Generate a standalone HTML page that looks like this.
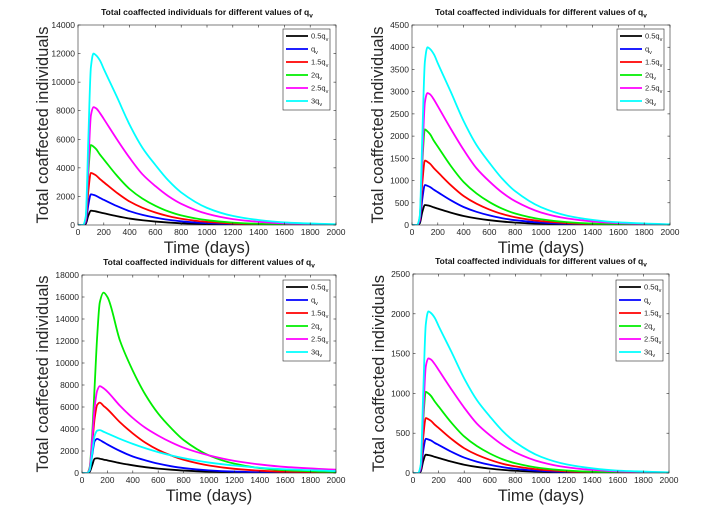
<!DOCTYPE html>
<html><head><meta charset="utf-8"><style>
html,body{margin:0;padding:0;background:#fff;}
svg{display:block;font-family:"Liberation Sans",Arial,sans-serif;}
</style></head><body>
<svg id="fig" width="724" height="514" viewBox="0 0 724 514"></svg>
<script>
const times = [0,40,60,80,100,120,140,170,200,300,400,500,600,700,800,1000,1200,1400,1600,2000];
const seriesLabels = ["0.5q","q","1.5q","2q","2.5q","3q"];
const seriesColors = ["#000000","#0000ff","#ff0000","#00ee00","#ff00ff","#00ffff"];
const xTicks = [0,200,400,600,800,1000,1200,1400,1600,1800,2000];

const p1Black = [0,0,80,650,1000,980,950,880,820,620,450,330,240,170,120,60,30,15,7,2];
const p1Blue = [0,0,172,1398,2150,2107,2043,1892,1763,1333,968,710,516,366,258,129,65,32,15,4];
const p1Red = [0,0,292,2373,3650,3577,3468,3212,2993,2263,1643,1205,876,621,438,219,110,55,26,7];
const p1Green = [0,0,448,3640,5600,5488,5320,4928,4592,3472,2520,1848,1344,952,672,336,168,84,39,11];
const p1Magenta = [0,0,413,4125,7673,8250,8168,7838,7425,6023,4703,3548,2723,2021,1485,784,413,223,116,33];
const p1Cyan = [0,0,600,6000,11040,12000,11880,11520,10920,9000,7020,5400,4200,3120,2280,1200,636,348,180,48];
const p1YTicks = [0,2000,4000,6000,8000,10000,12000,14000];

const p2Black = [0,0,36,293,450,441,428,396,369,279,203,149,108,77,54,27,14,7,3,1];
const p2Blue = [0,0,72,585,900,882,855,792,738,558,405,297,216,153,108,54,27,14,6,2];
const p2Red = [0,0,116,943,1450,1421,1378,1276,1189,899,653,479,348,247,174,87,44,22,10,3];
const p2Green = [0,0,172,1398,2150,2107,2043,1892,1763,1333,968,710,516,366,258,129,65,32,15,4];
const p2Magenta = [0,0,149,1485,2762,2970,2940,2822,2673,2168,1693,1277,980,728,535,282,149,80,42,12];
const p2Cyan = [0,0,200,2000,3680,4000,3960,3840,3640,3000,2340,1800,1400,1040,760,400,212,116,60,16];
const p2YTicks = [0,500,1000,1500,2000,2500,3000,3500,4000,4500];

const p3Black = [0,0,100,700,1300,1340,1300,1220,1150,900,700,530,400,300,220,120,60,30,15,4];
const p3Blue = [0,0,200,1600,2900,3100,3000,2800,2600,2000,1500,1150,850,620,450,240,130,70,35,10];
const p3Red = [0,0,300,2500,5000,6200,6400,6100,5800,4600,3600,2750,2100,1600,1200,680,380,210,120,40];
const p3Green = [0,0,500,3500,8000,12500,15500,16400,16000,12000,9300,7100,5400,4100,3000,1600,850,450,250,80];
const p3Magenta = [0,0,400,3000,6000,7500,7900,7700,7400,6100,5000,4100,3400,2800,2300,1600,1100,780,550,300];
const p3Cyan = [0,0,250,1800,3400,3850,3900,3750,3600,3100,2650,2250,1900,1600,1350,950,680,480,340,180];
const p3YTicks = [0,2000,4000,6000,8000,10000,12000,14000,16000,18000];

const p4Black = [0,0,18,150,230,225,219,202,189,143,104,76,55,39,28,14,7,3,2,0];
const p4Blue = [0,0,34,280,430,421,409,378,353,267,194,142,103,73,52,26,13,6,3,1];
const p4Red = [0,0,55,449,690,676,656,607,566,428,311,228,166,117,83,41,21,10,5,1];
const p4Green = [0,0,82,663,1020,1000,969,898,836,632,459,337,245,173,122,61,31,15,7,2];
const p4Magenta = [0,0,72,720,1339,1440,1426,1368,1296,1051,821,619,475,353,259,137,72,39,20,6];
const p4Cyan = [0,0,102,1015,1868,2030,2010,1949,1847,1523,1188,914,711,528,386,203,108,59,30,8];
const p4YTicks = [0,500,1000,1500,2000,2500];

const NS = "http://www.w3.org/2000/svg";
const svg = document.getElementById("fig");
function mk(tag, attrs, parent){
  const e = document.createElementNS(NS, tag);
  for (const k in attrs) e.setAttribute(k, attrs[k]);
  (parent||svg).appendChild(e);
  return e;
}

// monotone cubic (Fritsch-Carlson) path through pixel points
function monotonePath(pts){
  const n = pts.length;
  const dx = [], m = [], t = new Array(n).fill(0);
  for (let i = 0; i < n-1; i++){ dx[i] = pts[i+1][0]-pts[i][0]; m[i] = (pts[i+1][1]-pts[i][1])/dx[i]; }
  t[0] = m[0]; t[n-1] = m[n-2];
  for (let i = 1; i < n-1; i++){
    if (m[i-1]*m[i] <= 0) t[i] = 0;
    else { const w1 = 2*dx[i]+dx[i-1], w2 = dx[i]+2*dx[i-1]; t[i] = (w1+w2)/(w1/m[i-1]+w2/m[i]); }
  }
  let d = "M" + pts[0][0].toFixed(2) + "," + pts[0][1].toFixed(2);
  for (let i = 0; i < n-1; i++){
    const h = dx[i]/3;
    d += "C" + (pts[i][0]+h).toFixed(2) + "," + (pts[i][1]+t[i]*h).toFixed(2) + " " +
         (pts[i+1][0]-h).toFixed(2) + "," + (pts[i+1][1]-t[i+1]*h).toFixed(2) + " " +
         pts[i+1][0].toFixed(2) + "," + pts[i+1][1].toFixed(2);
  }
  return d;
}

function panel(id, L, R, T, B, yTicks, series, ylx, legX, legY){
  const g = mk("g", {});
  
  
  const yMax = yTicks[yTicks.length-1];
  const sx = v => L + (v/2000)*(R-L);
  const sy = v => B - (v/yMax)*(B-T);
  const cp = mk("clipPath", {id: id+"-clip"}, g);
  mk("rect", {x:L, y:T, width:R-L, height:B-T}, cp);
  series.forEach((vals, i) => {
    const pts = times.map((t, j) => [sx(t), sy(vals[j])]);
    const p = mk("path", {d:monotonePath(pts), fill:"none", stroke:seriesColors[i], "stroke-width":1.8, "clip-path":"url(#"+id+"-clip)"}, g);
    
    
  });
  const box = mk("rect", {x:L, y:T, width:R-L, height:B-T, fill:"none", stroke:"#262626", "stroke-width":0.6}, g);
  
  
  xTicks.forEach(v => {
    const x = sx(v);
    mk("line", {x1:x, y1:B, x2:x, y2:B-2.5, stroke:"#262626", "stroke-width":0.6}, g);
    mk("line", {x1:x, y1:T, x2:x, y2:T+2.5, stroke:"#262626", "stroke-width":0.6}, g);
    const t = mk("text", {x:x, y:B+10, "font-size":8.5, fill:"#262626", "text-anchor":"middle"}, g);
    t.textContent = v;
    
    
  });
  yTicks.forEach(v => {
    const y = sy(v);
    mk("line", {x1:L, y1:y, x2:L+2.5, y2:y, stroke:"#262626", "stroke-width":0.6}, g);
    mk("line", {x1:R, y1:y, x2:R-2.5, y2:y, stroke:"#262626", "stroke-width":0.6}, g);
    const t = mk("text", {x:L-3, y:y+3, "font-size":8.5, fill:"#262626", "text-anchor":"end"}, g);
    t.textContent = v;
    
    
  });
  const ti = mk("text", {x:(L+R)/2, y:T-10, "font-size":8.5, "font-weight":"bold", fill:"#111", "text-anchor":"middle"}, g);
  ti.innerHTML = 'Total coaffected individuals for different values of q<tspan font-size="6.5" dy="2.5">v</tspan>';
  
  
  const xl = mk("text", {x:(L+R)/2, y:B+28, "font-size":16.5, fill:"#262626", "text-anchor":"middle"}, g);
  xl.textContent = "Time (days)";
  
  
  const yl = mk("text", {x:ylx, y:(T+B)/2, "font-size":16.5, fill:"#262626", "text-anchor":"middle", transform:"rotate(-90 "+ylx+" "+(T+B)/2+")"}, g);
  yl.textContent = "Total coaffected individuals";
  
  
  const lg = mk("g", {}, g);
  
  
  mk("rect", {x:legX, y:legY, width:47, height:81, fill:"#fff", stroke:"#262626", "stroke-width":0.6}, lg);
  seriesLabels.forEach((lab, i) => {
    const y = legY + 7 + i*13;
    const ln = mk("line", {x1:legX+3, y1:y, x2:legX+25, y2:y, stroke:seriesColors[i], "stroke-width":1.8}, lg);
    
    
    const t = mk("text", {x:legX+28, y:y+2.5, "font-size":7.5, fill:"#262626"}, lg);
    t.innerHTML = lab.replace("q","") + 'q<tspan font-size="5.5" dy="2.5">v</tspan>';
    
    
  });
}

panel("panel-top-left", 78, 336, 25, 225, p1YTicks, [p1Black,p1Blue,p1Red,p1Green,p1Magenta,p1Cyan], 48, 283, 29);
panel("panel-top-right", 412, 670, 25, 225, p2YTicks, [p2Black,p2Blue,p2Red,p2Green,p2Magenta,p2Cyan], 383, 617, 29);
panel("panel-bottom-left", 82, 336, 275, 473, p3YTicks, [p3Black,p3Blue,p3Red,p3Green,p3Magenta,p3Cyan], 48, 283, 280);
panel("panel-bottom-right", 413, 669, 274, 473, p4YTicks, [p4Black,p4Blue,p4Red,p4Green,p4Magenta,p4Cyan], 384, 616, 280);
</script>
</body></html>
